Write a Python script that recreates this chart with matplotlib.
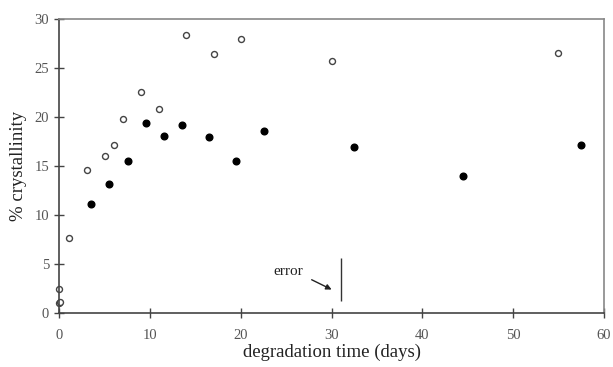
import matplotlib.pyplot as plt

plt.rcParams['font.family'] = ['Liberation Serif', 'DejaVu Serif']

# open circles
open_days = [0, 0.1, 0, 1, 3, 5, 6, 7, 9, 11, 14, 17, 20, 30, 55]
open_cryst = [1.0, 1.1, 2.5, 7.7, 14.6, 16.05, 17.1, 19.8, 22.6, 20.8, 28.4, 26.4, 28.0, 25.75, 26.5]

# filled circles
filled_days = [3.5, 5.5, 7.5, 9.5, 11.5, 13.5, 16.5, 19.5, 22.5, 32.5, 44.5, 57.5]
filled_cryst = [11.1, 13.2, 15.5, 19.35, 18.06, 19.2, 18.0, 15.5, 18.6, 16.9, 14.0, 17.1]

# error bar shown at the bottom
err_x = 31
err_low, err_high = 1.2, 5.6

fig = plt.figure(figsize=(6.13, 3.67), dpi=100)
ax = fig.add_axes([0.097, 0.147, 0.888, 0.801])

ax.plot(open_days, open_cryst, 'o', mfc='white', mec='#444444', mew=1.0, ms=4.3, clip_on=False)
ax.plot(filled_days, filled_cryst, 'o', color='black', ms=4.8, clip_on=False)

ax.vlines(err_x, err_low, err_high, color='#333333', lw=1.0)
ax.text(25.2, 4.2, 'error', fontsize=11, color='#222222', ha='center', va='center')
ax.annotate('', xy=(30.0, 2.4), xytext=(27.8, 3.4),
            arrowprops=dict(arrowstyle='-|>', color='#222222', lw=1.0, mutation_scale=8,
                            shrinkA=0, shrinkB=0))

ax.set_xlim(0, 60)
ax.set_ylim(0, 30)
ax.set_xticks(range(0, 61, 10))
ax.set_yticks(range(0, 31, 5))
ax.tick_params(direction='inout', length=7, width=1, colors='#444444', labelcolor='#555555',
               labelsize=10.5, pad=8)
ax.tick_params(axis='y', pad=4)

for s in ['left', 'bottom']:
    ax.spines[s].set_color('#444444')
    ax.spines[s].set_linewidth(1.2)
for s in ['top', 'right']:
    ax.spines[s].set_color('#888888')
    ax.spines[s].set_linewidth(1.2)

ax.set_xlabel('degradation time (days)', fontsize=13.5, color='#222222', labelpad=1)
ax.set_ylabel('% crystallinity', fontsize=13.5, color='#222222', labelpad=5)

fig.savefig('out.png', dpi=100)
